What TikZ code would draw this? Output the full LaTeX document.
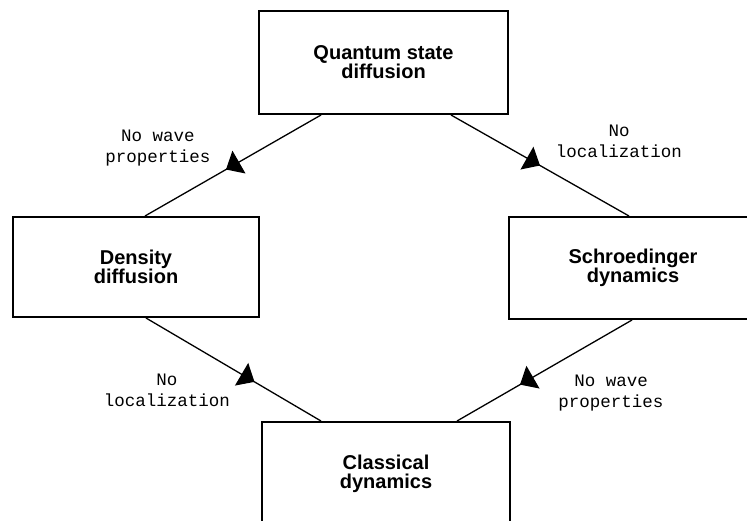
\documentclass[tikz,border=0pt]{standalone}
\usepackage{fontspec}
\setmainfont{Liberation Sans}
\setmonofont{Liberation Mono}
\usetikzlibrary{arrows.meta}
\usetikzlibrary{decorations.markings}

\begin{document}
\begin{tikzpicture}[x=1pt, y=1pt,
		box/.style = {draw, line width=2pt, minimum width=248pt, minimum height=103pt, inner sep=0pt, align=center, font=\fontsize{20}{19}\selectfont\bfseries},
		lbl/.style = {align=center, font=\ttfamily\fontsize{17.5}{21}\selectfont},
		link/.style = {line width=1.3pt, postaction={decorate},
			decoration={markings, mark=at position #1 with {\arrow{Triangle[length=15pt,width=26pt]}}}}]
	\clip (0,0) rectangle (747,-520);
	% the four descriptions
	\node[box, minimum width=249pt] (qsd) at (383.5,-62.5) {Quantum state\\diffusion};
	\node[box, minimum width=246pt, minimum height=100pt] (dens) at (136,-267) {Density\\diffusion};
	\node[box, minimum height=102pt] (schr) at (633,-268) {Schroedinger\\dynamics};
	\node[box] (clas) at (386,-473.5) {Classical\\dynamics};
	% limits between them
	\draw[link=0.54] ([xshift=63pt]qsd.south west) -- ([xshift=133pt]dens.north west);
	\draw[link=0.5] ([xshift=-58pt]qsd.south east) -- ([xshift=121pt]schr.north west);
	\draw[link=0.62] ([xshift=134pt]dens.south west) -- ([xshift=60pt]clas.north west);
	\draw[link=0.64] ([xshift=124pt]schr.south west) -- ([xshift=196pt]clas.north west);
	\node[lbl] (l1) at (158,-148) {No wave\\properties};
	\node[lbl] (l2) at (619,-141) {No\\localization};
	\node[lbl] (l3) at (167,-390) {No\\localization};
	\node[lbl] (l4) at (611,-393) {No wave\\properties};
\end{tikzpicture}
\end{document}
